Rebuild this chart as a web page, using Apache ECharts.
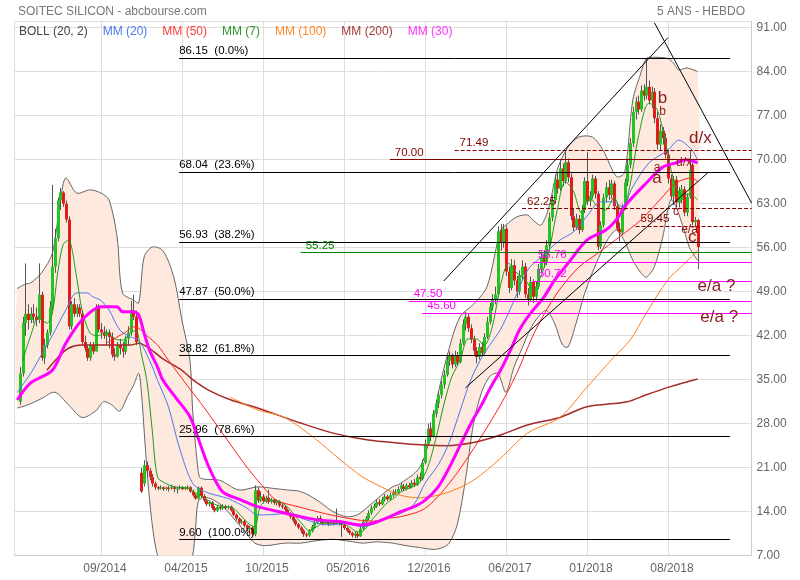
<!DOCTYPE html>
<html><head><meta charset="utf-8">
<script src="https://cdn.jsdelivr.net/npm/echarts@6/dist/echarts.min.js"></script>
<style>html,body{margin:0;padding:0;background:#fff}#c{width:800px;height:580px}</style>
</head><body><div id="c"></div>
<script>
// ---------- DATA ----------
const N = 274; // weekly slots on the axis
const tickIndex = [32, 62, 92, 122, 152, 182, 212, 242];
const tickLabels = ['09/2014', '04/2015', '10/2015', '05/2016', '12/2016', '06/2017', '01/2018', '08/2018'];

// weekly candles: [week index, open, close, low, high]
const candles = [
[2,31.5,36,31,37],[3,36,44,35.5,45],[4,44,45.5,42,53.5],[5,45.5,44.5,43,47],[6,44.5,45.5,44,46.5],[7,45.5,45,44,47],[8,45,44.5,43.5,46.5],[9,44.5,48.5,44,53.5],[10,48.5,38.5,38,49],[11,38.5,40.5,37.5,41.5],
[12,40.5,42.5,40,43],[13,42.5,46.5,42,47.5],[14,46.5,53,46,66],[15,53,57.5,52,59],[16,57.5,63.5,57,64],[17,63.5,64.8,62,65.5],[18,64.8,63,62.5,65],[19,63,60.5,60,63.5],[20,60.5,43.5,43,61],[21,43.5,47,43,47.5],
[22,47,45.5,45,48],[23,45.5,46.5,45,47],[24,46.5,45.5,45,47],[25,45.5,41,40.5,46],[26,41,40,39.5,42],[27,40,38.5,38,40.5],[28,38.5,40.5,38,41],[29,40.5,39.5,39,41],[30,39.5,46.5,39.5,47],[31,46.5,43,42.5,47],
[32,43,42.5,41.5,44],[33,42.5,42,41.5,43.5],[34,42,42.5,40.5,43],[35,42.5,41.8,40,43],[36,41.8,39,38.5,42.5],[37,39,38.7,38,40],[38,38.7,40.5,38.5,41],[39,40.5,40,39,41.5],[40,40,39.5,38.5,41],[41,39.5,41.5,39,42],
[42,41.5,42.5,40.5,43.5],[43,42.5,46,42,47.5],[44,46,45,44.5,48.5],[45,45,41,40.5,46],
[47,20.2,17.2,17,21],[48,18.5,21.4,18,22.2],[49,21.4,20.5,19.5,22],[50,20.5,19.5,19,21],[51,19.5,18.5,18,20],[52,18.5,17.9,17.5,18.8],[53,17.9,17.7,17.4,18.1],[54,17.7,17.9,17.5,18.2],[55,17.9,17.6,17.3,18],[56,17.6,17.8,17.4,18],
[57,17.8,17.7,17.2,18.1],[58,17.7,17.9,17.5,18.3],[59,17.9,17.6,17.1,18.1],[60,17.6,17.7,16.9,18],[61,17.7,17.9,17.5,18.2],[62,17.9,17.6,17.4,18.1],[63,17.6,17.8,17.4,18],[64,17.8,17.9,17.5,18.2],[65,17.9,17.2,17,18.1],[66,17.2,16.6,16.4,17.5],
[67,16.6,16.1,15.9,16.9],[68,16.1,17.8,15.9,18],[69,17.8,16.5,16.2,18],[70,16.5,15.8,15.5,16.8],[71,15.8,15.2,14.9,16],[72,15.2,15.5,14.8,15.8],[73,15.5,14.6,14.3,15.7],[74,14.6,14.2,13.9,14.9],[75,14.2,14.8,14,15.1],[76,14.8,14.5,14.2,15],
[77,14.5,14.9,14.3,15.2],[78,14.9,14.6,14.3,15.1],[79,14.6,14.8,14.4,15],[80,14.8,14.2,14,15],[81,14.2,13.5,13.3,14.4],[82,13.5,12.9,12.6,13.7],[83,12.9,12.3,12,13.1],[84,12.3,12.5,12,12.8],[85,12.5,11.8,11.5,12.7],[86,11.8,11.2,10.9,12],
[87,11.2,11.5,10.8,11.8],[88,11.5,10.5,10.2,11.7],[89,10.4,17.4,10.1,18.2],[90,17.4,15.8,15.4,17.9],[91,15.8,16.4,15.5,17.2],[92,16.4,15.7,15.3,16.8],[93,15.7,16.2,15.4,16.5],[94,16.2,15.6,15.2,17.5],[95,15.6,15.9,15.3,16.2],[96,15.9,15.4,15.1,16.1],
[97,15.4,15.6,15,15.9],[98,15.6,15,14.7,15.8],[99,15,14.8,14.4,15.3],[100,14.8,14.3,14,15],[101,14.3,13.7,13.4,14.5],[102,13.7,13.2,12.9,13.9],[103,13.2,12.6,12.3,13.4],[104,12.6,12,11.7,12.8],[105,12,11.5,11.2,12.2],[106,11.5,11,10.6,11.7],
[107,11,10.4,10,11.2],[108,10.4,10.2,9.9,10.7],[109,10.2,10.9,10,11.2],[110,10.9,11.6,10.7,11.9],[111,11.6,12.3,11.3,12.6],[112,12.3,13,12,13.3],[113,13,12.5,12.2,13.4],[114,12.5,12.1,11.8,12.8],[115,12.1,12.4,11.9,12.7],[116,12.4,12,11.7,12.6],
[117,12,12.3,11.8,12.5],[118,12.3,12.1,11.8,12.6],[119,12.1,12.4,11.9,14.5],[120,12.4,12.2,11.8,12.6],[121,12.2,11.9,10,12.4],[122,11.9,11.4,11.1,12.1],[123,11.4,11,10.7,11.6],[124,11,10.6,10.3,11.2],[125,10.6,10.2,9.9,10.8],[126,10.2,10.5,9.8,10.9],
[127,10.5,10.1,9.8,10.8],[128,10.1,11.3,10,11.6],[129,11.3,12.4,11.1,12.8],[130,12.4,12.9,12,13.3],[131,12.9,13.8,12.6,14.2],[132,13.8,14.6,13.5,15],[133,14.6,14.9,14.2,15.3],[134,14.9,15.5,14.6,16],[135,15.5,15.2,14.9,16],[136,15.2,15.9,15,16.3],
[137,15.9,16.4,15.6,16.8],[138,16.4,16,15.7,16.7],[139,16,16.6,15.8,17],[140,16.6,17.1,16.3,17.5],[141,17.1,17,16.6,17.6],[142,17,17.6,16.8,18],[143,17.6,18.2,17.3,18.6],
[144,18,17.6,17.3,18.4],[145,17.6,18.2,17.4,18.5],[146,18.2,17.9,17.6,18.6],[147,17.9,18.6,17.7,19],[148,18.6,18.3,17.9,19.2],[149,18.3,19.5,18.1,19.9],[150,19.5,19.2,18.8,20.2],[151,19.2,21.8,19,22.3],[152,21.8,24.8,21.5,25.5],[153,24.8,27.2,24.5,28],
[154,27.2,26,25.2,28.2],[155,26,29.6,25.8,30.2],[156,29.6,31.2,29,31.8],[157,31.2,32.6,30.5,33.2],[158,32.6,34.2,32,34.8],[159,34.2,35.8,33.6,36.5],[160,35.8,38,35.5,38.8],[161,38,38.8,37.2,39.5],[162,38.8,37.4,36.8,39.2],[163,37.4,38.9,37,39.6],
[164,38.9,37.8,37.2,39.4],[165,37.8,40.8,37.6,41.5],[166,40.8,43.8,40.5,44.6],[167,43.8,45,42.8,45.8],[168,45,43.2,42.6,45.5],[169,43.2,41.4,40.8,43.8],[170,41.4,39.6,39,42],[171,39.6,38.6,37.6,40.2],[172,38.6,40.2,38.2,40.8],[173,40.2,39.2,38.6,41],
[174,39.2,41.8,39,42.4],[175,41.8,44.2,41.5,45],[176,44.2,46.6,43.8,47.2],[177,46.6,47.8,46,48.6],[178,47.8,48.6,47,49.8],[179,48.6,58.6,48.2,59.4],[180,58.6,56.8,55.5,59.8],[181,56.8,59,56,59.8],[182,59,52.2,51.5,59.5],[183,52.2,49.6,48.8,53],
[184,49.6,53.2,49.2,54.2],[185,53.2,50.8,50,54],[186,50.8,49,48,51.5],[187,49,51.6,48.5,52.4],[188,51.6,53,50.8,54],[189,53,48.6,48,53.6],[190,48.6,47.8,46.8,49.6],[191,47.8,50.6,47.5,51.4],[192,50.6,48.2,47.2,51],[193,48.2,49.8,47.6,50.6],
[194,49.8,52.6,49.4,53.4],[195,52.6,54.6,52,55.4],[196,54.6,53.6,52.8,55.6],[197,53.6,56.4,53.2,57.2],[198,56.4,60.8,56,61.6],[199,60.8,63.6,60.2,64.4],[200,63.6,66.8,63,67.6],[201,66.8,65.4,64.6,68],[202,65.4,68.6,65,70],[203,68.6,66.6,65.8,69.4],
[204,66.6,69.6,66.2,71.49],[205,69.6,67.2,66.4,70.2],[206,67.2,61,60.4,67.8],[207,61,59.2,58.6,62.2],[208,59.2,60.6,58.8,61.4],[209,60.6,58.8,58.2,61.2],[210,58.8,62,58.5,62.8],[211,62,66.6,61.5,67.2],[212,66.6,63.4,62.8,71.2],[213,63.4,64.2,62.6,65],
[214,64.2,67,63.8,67.6],[215,67,64.6,63.8,67.4],[216,64.6,56.2,55.6,65],[217,56.2,59.6,55.8,60.2],[218,59.6,64,59.2,64.6],[219,64,65.6,63.2,66.4],[220,65.6,64.4,63.6,66.8],[221,64.4,66.2,63.8,66.8],[222,66.2,62.6,62,66.6],[223,62.6,59,58.6,63.2],
[224,59,58.4,57,60],[225,58.4,62.4,58,63],[226,62.4,66.4,62,67],[227,66.4,69.2,65.8,70.2],[228,69.2,72.6,68.6,73.4],[229,72.6,77.6,72,78.4],[230,77.6,79.2,76.4,80],[231,79.2,78,77.2,80.2],[232,78,81,77.6,81.8],[233,81,80.2,79.4,82],
[234,80.2,81.6,79.6,86.15],[235,81.6,79.4,78.8,82.6],[236,79.4,80.8,78.2,81.6],[237,80.8,76.6,75.8,81.4],[238,76.6,72.4,71.6,77.6],[239,72.4,74.6,71.4,75.6],[240,74.6,73.4,72.4,75.2],[241,73.4,70.8,70.2,74.2],[242,70.8,67,66.2,71.6],[243,67,64.2,63.6,67.6],
[244,64.2,66.8,62.8,67.4],[245,66.8,63.2,62.4,67.4],[246,63.2,65,62.4,65.6],[247,63.6,65.3,63,66],[248,65.3,61.6,61,65.8],[249,61.6,64.1,61,64.6],[250,64.1,68.4,63.8,71.5],[251,69.2,60.1,59.6,69.6],[252,60.1,60.4,59.4,60.9],[253,60.4,56.1,52.6,60.6]
];

// moving averages: [week index, value]
const mm20 = [[1,33],[6,36],[10,39],[14,42],[19,46.1],[23,48.8],[27,48.8],[29,48.2],[32,47.6],[35,46.1],[39,42.9],[43,41.8],[46,41.3],[50,38.1],[53,34.9],[57,30.7],[61,24.3],[66,18.5],[71,17.1],[79,16.1],[86,14.6],[90,13.5],[93,13.5],[101,13.7],[108,12.7],[116,11.9],[123,12.1],[129,11.6],[134,12.2],[139,13.2],[143,13.7],[148,15.2],[152,18.5],[157,21.5],[161,25],[165,30],[169,35],[173,38.5],[176,40.5],[180,43],[184,46.6],[190,52.4],[195,54.5],[202,57.2],[207,58.5],[212,61],[217,63.3],[222,63.3],[225,62.5],[229,65.7],[235,69.5],[242,71.5],[246,73.1],[251,71.5],[253,69.9]];
const mm50 = [[34,40.8],[38,41.8],[41,42.5],[44,43.4],[46,43.2],[49,42],[53,40.5],[57,38.1],[61,35.8],[65,33.5],[70,30.7],[78,25.9],[85,21.7],[91,18.5],[97,15.85],[105,14.8],[117,13.5],[127,12.7],[133,12.5],[139,13],[143,13.2],[152,14.5],[161,18.5],[170,24],[180,31],[186,36],[193,42.9],[201,48.8],[209,52.9],[216,55.1],[224,57.7],[232,60.4],[239,63.6],[245,66.3],[251,67.1],[253,66.5]];
const mm7 = [[3,38],[6,42],[9,45],[12,44],[14,45.5],[16,52],[18,56.5],[20,57.2],[23,51.3],[25,46.1],[28,42.4],[31,42],[34,42.6],[37,41.5],[40,41.3],[43,42.4],[45,42.9],[47,39],[49,34.9],[51,27],[53,19.5],[56,18.5],[60,17.9],[64,17.8],[67,17],[70,16.3],[74,15.2],[78,14.8],[81,14.6],[84,13.3],[87,12],[89,11.6],[91,14.8],[94,15.9],[98,15.6],[101,14.8],[104,13.3],[107,11.8],[109,11],[112,11.6],[115,12.4],[118,12.2],[121,12.2],[124,11.6],[127,10.8],[129,10.9],[132,12.5],[135,14],[138,15.4],[141,16.3],[143,17.1],[147,17.9],[150,18.6],[153,21],[156,25.5],[159,31],[162,35.5],[165,38],[168,41.5],[171,41.5],[174,40.5],[177,43.5],[180,50],[183,53.5],[186,52],[189,51],[192,49.3],[195,51.5],[198,55.5],[201,62],[204,66.5],[207,65],[210,61.5],[213,64],[216,62.5],[219,62],[222,64],[225,61.5],[228,66],[231,73.5],[235,79],[238,78],[241,73],[244,67],[247,64.5],[250,64.5],[253,63.6]];
const mm100 = [[80,32.2],[90,30.2],[100,29],[112,25.4],[120,22.5],[129,19.5],[138,17.5],[143,16.6],[150,16.2],[160,17],[170,19],[180,22.5],[190,26.5],[202,29],[212,33.8],[222,38.6],[228,41.3],[234,45.6],[242,50.9],[247,53],[253,55.5]];
const mm200 = [[12,36.5],[16,38.5],[20,40],[25,40.5],[35,40.5],[43,40.5],[46,40.8],[50,40],[55,38.3],[62,36.5],[66,35],[72,33.3],[80,31.8],[90,30.5],[106,28.1],[118,26.5],[131,25.4],[143,24.9],[152,24.6],[160,24.5],[170,25],[180,26.2],[190,27.8],[202,29],[212,30.7],[227,31.5],[234,32.6],[243,33.9],[253,35.1]];
const mm30 = [[1,31.8],[6,34.5],[14,36.5],[19,40.8],[25,44.5],[32,46.6],[38,46.6],[40,45.8],[44,45.8],[46,45.3],[48,42.4],[50,39.7],[53,37],[55,34.9],[60,32],[65,29.1],[69,24.5],[72,21.1],[77,17.2],[84,15.85],[90,14.8],[101,13.7],[112,12.7],[121,12.4],[128,11.9],[133,12.2],[139,13.2],[143,14],[148,14.8],[152,15.8],[157,18],[161,21],[165,24.5],[169,28],[173,31],[176,33.5],[180,36.5],[184,40],[187,42.9],[191,45.5],[196,48.1],[200,50.8],[205,53.5],[212,57.2],[219,58.8],[223,60.5],[227,63.1],[234,66.3],[240,68.8],[245,69.5],[249,70],[253,69.5]];

// Bollinger (20, 2) bands
const bollUp = [[1,49.5],[4,50.2],[6,50.4],[10,52],[14,55.1],[17,63.6],[19,67.1],[23,64.7],[28,65.2],[32,64.7],[35,63.6],[38,57.7],[40,48.8],[44,47.7],[46,47.2],[48,54.5],[51,56.1],[55,55.5],[59,51.3],[62,44.5],[65,38],[66,30],[68,20.6],[69,19.3],[76,19],[83,17.45],[90,17.95],[96,17.7],[101,17.45],[106,17.2],[112,15.85],[118,14],[123,13.2],[127,13.5],[131,14.8],[135,16.3],[140,17.95],[143,18.5],[150,21],[154,26],[157,33],[161,40],[165,45],[170,47],[175,49.8],[180,58.8],[182,59.6],[186,60.9],[190,61.2],[192,60.4],[195,59.6],[198,62.5],[201,68.4],[205,72],[209,73.6],[214,73.6],[218,71.5],[223,67.3],[226,68],[229,79.5],[232,83.8],[234,86.1],[236,86.3],[242,86.1],[244,85.4],[246,84.3],[249,84.6],[253,84]];
const bollLow = [[1,30.5],[5,31],[10,32],[15,33],[20,31],[25,29],[30,30],[33,31.5],[36,31],[39,30],[42,32.5],[44,34],[46,36],[47,33],[48,27],[49,21],[50,16],[51,12],[52,9],[53,7],[55,4],[60,2],[64,4],[66,7],[67,11],[68,15.5],[70,16.3],[74,15.8],[78,14.5],[82,12.5],[86,10.5],[89,9],[93,8.6],[100,9],[106,9],[112,9.4],[118,9.6],[124,9.3],[129,9],[134,9.2],[140,9],[145,8.6],[150,8.3],[155,8],[158,8.2],[161,9],[164,12],[167,19],[170,28],[173,33],[176,35.5],[179,36],[182,33],[185,37],[188,40],[191,43],[194,45],[197,46],[200,44],[203,40.5],[205,40.2],[208,44],[211,48.5],[214,52],[217,55],[220,57.5],[223,58.8],[226,57],[229,54],[232,52],[234,51.3],[237,53],[240,57.5],[243,63.6],[245,62.5],[248,58.8],[250,56],[253,54]];

// Fibonacci retracement levels
const fibValues = [86.15, 68.04, 56.93, 47.87, 38.82, 25.96, 9.60];
const fibPercents = ['0.0%', '23.6%', '38.2%', '50.0%', '61.8%', '78.6%', '100.0%'];
// drawn resistance / support levels
const redLevels = [70.00, 71.49, 62.25, 59.45];
const greenLevels = [55.25];
const magentaLevels = [53.76, 50.72, 47.50, 45.60];
// trend lines: pairs of [week index, value]
const trendLines = [
  [[159, 50.7], [242, 89.4]],
  [[167, 33.7], [257, 68.0]],
  [[237, 91.8], [273, 63.1]]
];
// Elliott wave notes: [text, week index, value]
const waveNotes = [
  ['b', 240, 79.8], ['b', 240, 77.7], ['a', 238, 68.8], ['a', 238, 67.0],
  ['d/x', 248, 69.5], ['d/x', 254, 73.4], ['c', 245, 61.7], ['e/a', 250, 58.8], ['c', 251, 57.7],
  ['e/a ?', 260, 49.9], ['e/a ?', 261, 45.0]
];
const lastPrice = 56.10, highPrice = 86.15, lowPrice = 9.60;

// ---------- STYLES ----------
const FONT = '"Liberation Sans", Arial, sans-serif';
const waveSizes = [17, 12, 12, 17, 12, 17, 12, 12, 17, 17, 17];
const redStart = [139, 163, 188, 230];
const redDash = ['solid', 'dashed', 'dashed', 'dashed'];
const greenStart = [106];
const magStart = [192, 192, 146, 151];
const WAVE = '#8b1a1a';

const categories = [];
for (let i = 0; i < N; i++) categories.push(String(i));

function levelLine(v, s, e, color, type, labelText, dist) {
  return [
    {coord: [s, v], lineStyle: {color: color, type: type, width: 1},
     label: {show: true, position: 'insideStartTop', formatter: labelText, color: color,
             fontSize: 11.5, fontFamily: FONT, distance: dist, padding: 0}},
    {coord: [e, v]}
  ];
}

const levelData = [];
fibValues.forEach((v, k) => levelData.push(levelLine(v, 61, 265, '#000', 'solid', v.toFixed(2) + '  (' + fibPercents[k] + ')', [0, 1])));
redLevels.forEach((v, k) => levelData.push(levelLine(v, redStart[k], 273, '#800000', redDash[k], v.toFixed(2), [5, 1])));
greenLevels.forEach((v, k) => levelData.push(levelLine(v, greenStart[k], 273, '#008000', 'solid', v.toFixed(2), [5, 1])));
magentaLevels.forEach((v, k) => levelData.push(levelLine(v, magStart[k], 273, '#ff00ff', 'solid', v.toFixed(2), [5, 1])));
trendLines.forEach(t => levelData.push([
  {coord: t[0], lineStyle: {color: '#000', width: 1, type: 'solid'}, label: {show: false}},
  {coord: t[1]}
]));

function badge(v, bg) {
  return {yAxis: v, lineStyle: {opacity: 0},
    label: {show: true, position: 'end', distance: 1, formatter: v.toFixed(2), color: '#fff',
            backgroundColor: bg, padding: [3, 10, 2, 4], fontSize: 13, fontFamily: FONT}};
}

function maSeries(name, data, color, width) {
  return {name: name, type: 'line', data: data, smooth: 0.3, showSymbol: false, symbol: 'none',
          lineStyle: {color: color, width: width}, itemStyle: {color: color}, z: 4, silent: true};
}

const chart = echarts.init(document.getElementById('c'), null, {renderer: 'canvas'});
chart.setOption({
  animation: false,
  backgroundColor: '#fff',
  textStyle: {fontFamily: FONT},
  title: [
    {text: 'SOITEC SILICON - abcbourse.com', left: 13, top: 1, textStyle: {fontSize: 12, fontWeight: 'normal', color: '#777', fontFamily: FONT}},
    {text: '5 ANS - HEBDO', right: 50, top: 1, textStyle: {fontSize: 12, fontWeight: 'normal', color: '#777', fontFamily: FONT}}
  ],
  legend: {
    left: 9, top: 20, icon: 'none', itemWidth: 0, itemHeight: 14, itemGap: 10, selectedMode: false,
    textStyle: {fontSize: 12, fontFamily: FONT},
    data: [
      {name: 'BOLL (20, 2)', textStyle: {color: '#444'}},
      {name: 'MM (20)', textStyle: {color: '#4a78f0'}},
      {name: 'MM (50)', textStyle: {color: '#ff4040'}},
      {name: 'MM (7)', textStyle: {color: '#2e9a2e'}},
      {name: 'MM (100)', textStyle: {color: '#ff8a2a'}},
      {name: 'MM (200)', textStyle: {color: '#a33a3a'}},
      {name: 'MM (30)', textStyle: {color: '#ff33ff'}}
    ]
  },
  grid: {left: 14.5, right: 48.4, top: 21.4, bottom: 24.3, containLabel: false},
  xAxis: {
    type: 'category', data: categories, boundaryGap: false,
    axisLine: {show: true, lineStyle: {color: '#ccc'}},
    axisTick: {show: false},
    axisLabel: {
      interval: (idx) => tickIndex.indexOf(idx) >= 0,
      formatter: (val, idx) => { const k = tickIndex.indexOf(Number(val)); return k >= 0 ? tickLabels[k] : ''; },
      color: '#666', fontSize: 12, fontFamily: FONT, margin: 7, padding: [0, 0, 0, 8]
    },
    splitLine: {show: true, interval: (idx) => idx === 0 || idx === N - 1 || tickIndex.indexOf(idx) >= 0,
                lineStyle: {color: '#ddd', width: 1}}
  },
  yAxis: {
    type: 'value', position: 'right', min: 7, max: 92, interval: 7, scale: true,
    axisLine: {show: true, lineStyle: {color: '#ccc'}},
    axisTick: {show: false},
    axisLabel: {formatter: (v) => (Math.abs(v % 7) < 1e-6 ? v.toFixed(2) : ''), color: '#666',
                fontSize: 12, fontFamily: FONT, margin: 5, padding: [0, 0, 6, 0]},
    splitLine: {show: true, lineStyle: {color: '#ddd', width: 1}}
  },
  series: [
    {
      name: 'BOLL (20, 2)', type: 'custom', data: [[0, 20]], clip: true, silent: true, z: 1,
      itemStyle: {color: '#666'},
      renderItem: (params, api) => {
        const up = bollUp.map(p => api.coord(p));
        const lo = bollLow.map(p => api.coord(p));
        return {type: 'group', children: [
          {type: 'polygon', shape: {points: up.concat(lo.slice().reverse()), smooth: 0.3}, style: {fill: '#fde9dd', stroke: null}},
          {type: 'polyline', shape: {points: up, smooth: 0.3}, style: {stroke: '#666', lineWidth: 1, fill: null}},
          {type: 'polyline', shape: {points: lo, smooth: 0.3}, style: {stroke: '#666', lineWidth: 1, fill: null}}
        ]};
      }
    },
    {
      name: 'prix', type: 'custom', data: candles, encode: {x: 0, y: [1, 2, 3, 4]}, clip: true, silent: true, z: 3,
      renderItem: (params, api) => {
        const i = api.value(0), o = api.value(1), c = api.value(2), l = api.value(3), h = api.value(4);
        const pO = api.coord([i, o]), pC = api.coord([i, c]), pL = api.coord([i, l]), pH = api.coord([i, h]);
        const x = Math.round(pO[0]) + 0.5;
        const top = Math.min(pO[1], pC[1]), bot = Math.max(pO[1], pC[1]);
        return {type: 'group', children: [
          {type: 'line', shape: {x1: x, y1: pH[1], x2: x, y2: pL[1]}, style: {stroke: '#555', lineWidth: 1}},
          {type: 'rect', shape: {x: x - 1.5, y: top, width: 3, height: Math.max(1, bot - top)},
           style: {fill: c >= o ? '#21c421' : '#e31b1b'}}
        ]};
      }
    },
    maSeries('MM (200)', mm200, '#a52a2a', 1.5),
    maSeries('MM (100)', mm100, '#ff7f1e', 1),
    maSeries('MM (50)', mm50, '#ff2020', 1),
    maSeries('MM (20)', mm20, '#4a78f0', 1),
    maSeries('MM (7)', mm7, '#1f9a1f', 1),
    maSeries('MM (30)', mm30, '#ff00ff', 3),
    {
      name: 'niveaux', type: 'line', data: [], z: 5, silent: true,
      markLine: {symbol: ['none', 'none'], silent: true, animation: false, data: levelData.concat([
        badge(highPrice, '#008000'), badge(lastPrice, '#3f7ff5'), badge(lowPrice, '#c00000')
      ])},
      markPoint: {silent: true, animation: false, data: waveNotes.map((n, k) => ({
        coord: [n[1], n[2]], symbol: 'circle', symbolSize: 0,
        label: {show: true, position: 'inside', formatter: n[0], color: WAVE, fontSize: waveSizes[k], fontFamily: FONT}
      }))}
    }
  ]
});
</script></body></html>
